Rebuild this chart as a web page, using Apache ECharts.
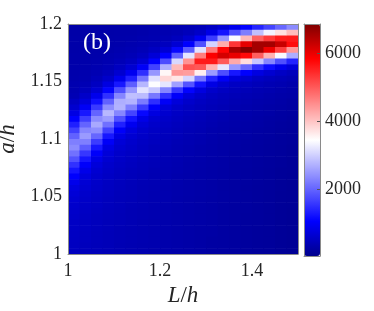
<!DOCTYPE html>
<html><head><meta charset="utf-8">
<script src="https://cdn.jsdelivr.net/npm/echarts@6/dist/echarts.min.js"></script>
<style>html,body{margin:0;padding:0;background:#fff}#c{width:374px;height:311px}</style>
</head><body><div id="c"></div>
<script>
// cell centres along L/h (columns) and a/h (rows, top to bottom)
const xCenters = [1.0125,1.0375,1.0625,1.0875,1.1125,1.1375,1.1625,1.1875,1.2125,1.2375,1.2625,1.2875,1.3125,1.3375,1.3625,1.3875,1.4125,1.4375,1.4625,1.4875];
const yCenters = [1.1975,1.1925,1.1875,1.1825,1.1775,1.1725,1.1675,1.1625,1.1575,1.1525,1.1475,1.1425,1.1375,1.1325,1.1275,1.1225,1.1175,1.1125,1.1075,1.1025,1.0975,1.0925,1.0875,1.0825,1.0775,1.0725,1.0675,1.0625,1.0575,1.0525,1.0475,1.0425,1.0375,1.0325,1.0275,1.0225,1.0175,1.0125,1.0075,1.0025];
// values, one array per column (top row first)
const zByColumn = [
[300,300,310,310,310,320,320,330,340,350,370,380,410,530,640,820,1060,1360,1670,1980,2260,2370,2130,1840,1530,1270,1050,890,780,710,660,620,600,580,560,550,540,530,520,510],
[300,300,310,310,320,320,330,340,360,370,420,480,590,750,990,1300,1660,2010,2320,2510,2260,1930,1590,1280,1040,870,760,690,650,610,580,560,550,530,520,510,500,500,490,480],
[300,300,310,320,320,330,350,370,400,450,530,670,900,1220,1610,2010,2370,2650,2390,2030,1630,1290,1030,850,740,670,630,590,570,550,530,520,500,490,490,480,470,470,460,460],
[300,310,320,330,340,360,380,420,480,600,800,1100,1520,1980,2400,2790,2530,2120,1680,1290,1010,830,720,660,610,580,560,530,520,500,490,480,470,460,450,450,440,440,440,430],
[310,320,330,340,360,390,430,510,650,900,1290,1800,2320,2700,2740,2320,1820,1370,1030,830,710,650,600,570,550,520,500,490,480,460,450,450,440,430,430,420,420,420,410,410],
[310,320,340,360,390,430,510,660,940,1370,1940,2490,2870,2750,2250,1710,1240,940,770,670,620,580,550,520,500,480,470,450,440,440,430,420,410,410,410,400,400,400,390,390],
[320,340,360,390,430,510,680,1000,1510,2170,2770,3190,2830,2220,1610,1140,860,710,630,580,550,520,500,480,460,450,430,420,410,410,400,400,390,390,380,380,380,380,370,370],
[340,360,380,430,520,710,1080,1690,2480,3160,3440,2930,2190,1500,1040,790,660,600,560,520,500,470,460,440,430,410,400,400,390,380,380,370,370,370,360,360,360,360,360,350],
[350,380,420,500,680,1080,1780,2710,3530,3830,3220,2310,1510,1000,750,640,580,540,500,480,460,440,420,410,400,390,380,370,360,360,360,350,350,350,340,340,340,340,340,340],
[370,410,490,690,1140,1970,3090,4100,4420,3680,2570,1600,1020,740,620,560,520,490,460,440,420,400,390,380,370,360,350,350,340,340,330,330,330,330,320,320,320,320,320,320],
[400,470,640,1060,1920,3200,4470,5080,4370,3070,1860,1100,750,610,540,500,470,440,420,400,390,370,360,350,340,340,330,320,320,320,310,310,310,310,300,300,300,300,300,300],
[440,580,960,1810,3170,4670,5580,5020,3600,2170,1240,790,610,530,490,460,430,410,390,370,360,340,340,330,320,310,310,300,300,300,290,290,290,290,290,280,280,280,280,280],
[540,860,1630,3030,4710,5860,5590,4160,2520,1390,830,610,520,480,440,420,390,370,350,340,330,320,310,300,300,290,290,280,280,280,270,270,270,270,270,270,270,260,260,260],
[690,1270,2470,4230,5800,6190,5000,3220,1790,980,650,530,470,440,410,380,360,340,330,310,300,290,290,280,280,270,270,260,260,260,260,250,250,250,250,250,250,250,250,250],
[910,1800,3400,5340,6530,6010,4260,2470,1290,750,550,480,430,400,370,350,330,320,300,290,280,270,260,260,250,250,250,240,240,240,240,230,230,230,230,230,230,230,230,230],
[1100,2250,4120,6050,6830,5750,3780,2040,1060,650,500,440,400,370,350,330,310,290,280,270,260,250,250,240,240,230,230,230,220,220,220,220,220,210,210,210,210,210,210,210],
[1420,2870,4920,6560,6570,4960,2930,1500,800,540,450,400,370,340,320,300,280,270,260,250,240,230,230,220,220,210,210,210,200,200,200,200,200,200,200,190,190,190,190,190],
[1710,3340,5300,6570,5980,4170,2320,1180,660,480,410,370,340,320,290,280,260,250,240,230,220,210,210,200,200,190,190,190,190,180,180,180,180,180,180,180,180,180,180,180],
[2040,3750,5570,6280,5260,3400,1810,920,560,430,380,340,310,290,270,250,240,220,210,200,200,190,190,180,180,170,170,170,170,160,160,160,160,160,160,160,160,160,160,160],
[2370,4080,5600,5730,4430,2690,1390,740,480,390,340,310,290,260,250,230,210,200,190,180,180,170,170,160,160,160,150,150,150,150,150,150,140,140,140,140,140,140,140,140]
];
const xTicks = [1, 1.2, 1.4];
const yTicks = [1, 1.05, 1.1, 1.15, 1.2];
const cbTicks = [2000, 4000, 6000];
const cbRange = [50, 6860];
const colorStops = ['#00008c','#0000b2','#0000d9','#0000ff','#2424ff','#4949ff','#6d6dff','#9292ff','#b6b6ff','#dbdbff','#ffffff','#ffdbdb','#ffb6b6','#ff9292','#ff6d6d','#ff4949','#ff2424','#ff0000','#d50000','#aa0000','#800000'];

const cells = [];
xCenters.forEach((x, j) => yCenters.forEach((y, i) => cells.push([x, y, zByColumn[j][i]])));
const dx = xCenters[1] - xCenters[0];
const dy = Math.abs(yCenters[0] - yCenters[1]);

const serif = "Liberation Serif";
const ink = '#262626';
const frame = '#8a8a8a';
const lineOnly = (extra) => Object.assign({
  type: 'value', axisLine: { show: true, onZero: false, lineStyle: { color: frame, width: 1 } },
  axisTick: { show: false }, axisLabel: { show: false }, splitLine: { show: false }, z: 10
}, extra);

const chart = echarts.init(document.getElementById('c'), null, { renderer: 'canvas' });
chart.setOption({
  animation: false,
  backgroundColor: '#ffffff',
  title: { text: '(b)', left: 83, top: 31, padding: 0, textStyle: { color: '#ffffff', fontFamily: serif, fontSize: 24, fontWeight: 'normal' } },
  grid: [
    { left: 68, top: 24, width: 230, height: 230, containLabel: false, outerBoundsMode: 'none' },
    { left: 304, top: 24, width: 16, height: 232, containLabel: false, outerBoundsMode: 'none' }
  ],
  xAxis: [
    lineOnly({ gridIndex: 0, min: 1, max: 1.5, position: 'bottom',
      axisLabel: { show: true, customValues: xTicks, color: ink, fontFamily: serif, fontSize: 18, margin: 8 },
      name: '{i|L}/{i|h}', nameLocation: 'middle', nameGap: 29,
      nameTextStyle: { color: ink, fontFamily: serif, fontSize: 23, rich: { i: { fontStyle: 'italic', fontFamily: serif, fontSize: 23, color: ink } } } }),
    lineOnly({ gridIndex: 0, min: 1, max: 1.5, position: 'top' }),
    lineOnly({ gridIndex: 1, min: 0, max: 1, position: 'bottom' }),
    lineOnly({ gridIndex: 1, min: 0, max: 1, position: 'top' })
  ],
  yAxis: [
    lineOnly({ gridIndex: 0, min: 1, max: 1.2, position: 'left',
      axisLabel: { show: true, customValues: yTicks, color: ink, fontFamily: serif, fontSize: 18, margin: 6,
        formatter: v => String(+(+v).toFixed(2)) },
      name: '{i|a}/{i|h}', nameLocation: 'middle', nameGap: 38,
      nameTextStyle: { color: ink, fontFamily: serif, fontSize: 23, rich: { i: { fontStyle: 'italic', fontFamily: serif, fontSize: 23, color: ink } } } }),
    lineOnly({ gridIndex: 0, min: 1, max: 1.2, position: 'right' }),
    lineOnly({ gridIndex: 1, min: cbRange[0], max: cbRange[1], position: 'right',
      axisTick: { show: true, inside: true, length: 3, customValues: cbTicks, lineStyle: { color: '#555' } },
      axisLabel: { show: true, customValues: cbTicks, color: ink, fontFamily: serif, fontSize: 18, margin: 5,
        formatter: v => String(Math.round(v)) } }),
    lineOnly({ gridIndex: 1, min: cbRange[0], max: cbRange[1], position: 'left' })
  ],
  visualMap: {
    type: 'continuous', seriesIndex: 0, dimension: 2,
    min: cbRange[0], max: cbRange[1], inRange: { color: colorStops },
    left: 304, top: 24, itemWidth: 16, itemHeight: 232, padding: 0,
    calculable: false, hoverLink: false, text: null, orient: 'vertical'
  },
  series: [{
    type: 'custom', xAxisIndex: 0, yAxisIndex: 0, data: cells, clip: true,
    encode: { x: 0, y: 1 },
    renderItem: function (params, api) {
      const x = api.value(0), y = api.value(1);
      const p0 = api.coord([x - dx / 2, y + dy / 2]);
      const p1 = api.coord([x + dx / 2, y - dy / 2]);
      return { type: 'rect', shape: { x: p0[0], y: p0[1], width: p1[0] - p0[0] + 0.6, height: p1[1] - p0[1] + 0.6 },
        style: { fill: api.visual('color') } };
    }
  }]
});
</script></body></html>
